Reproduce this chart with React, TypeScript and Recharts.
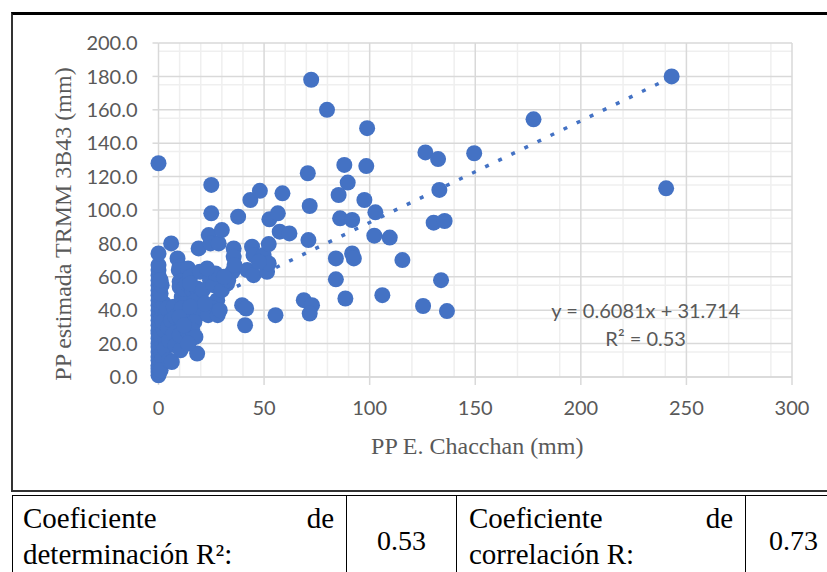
import {
  ScatterChart,
  Scatter,
  XAxis,
  YAxis,
  CartesianGrid,
  ReferenceLine,
  ReferenceDot,
  Label,
} from 'recharts';

// PP E. Chacchan (x) vs PP estimada TRMM 3B43 (y), mm
const puntosEjeCero: [number, number][] = [
  [0, 1], [0, 3], [0, 5], [0, 7], [0, 10], [0, 12], [0, 15], [0, 18], [0, 20],
  [0, 23], [0, 26], [0, 28], [0, 31], [0, 34], [0, 37], [0, 40], [0, 43], [0, 46],
  [0, 49], [0, 52], [0, 55], [0, 58], [0, 61], [0, 64], [0, 67], [0, 74], [0, 128],
  [1, 9], [1.5, 14], [2, 20], [1, 25], [2.5, 30], [1.5, 35], [2, 40], [2.5, 44],
  [1, 50], [1.5, 55], [1, 58], [2, 11], [3, 24], [3, 17], [2.5, 28],
  [3.5, 38], [1, 4], [2, 33], [4, 41],
];

const puntosBajos: [number, number][] = [
  [5, 10], [6.3, 9], [5, 22], [4.5, 30], [6, 34], [7.2, 26], [7.2, 42], [8, 36],
  [8, 19], [6, 80], [9, 71], [10, 66], [9.6, 64], [10, 57], [10, 54], [11, 48],
  [10.4, 16], [10, 25], [11, 34], [12, 38], [13.4, 28], [13, 44], [14, 65], [13, 50],
  [12, 53], [11, 41], [10, 36], [13.4, 56], [15, 22], [15, 60], [16, 52], [17, 38],
  [18.3, 14], [18.3, 37], [18.3, 53], [19, 77], [19.6, 63], [19.6, 47], [17, 45],
  [15, 56], [14, 27], [15, 42], [17, 33], [16, 28], [17.5, 24], [14, 20], [12, 31],
];

const puntosMedios: [number, number][] = [
  [23.8, 85], [24.6, 80], [28.5, 80], [30, 88], [25, 115], [25, 98], [24.4, 58],
  [28, 56], [27.8, 46], [26, 41], [23.5, 37], [28, 37], [21, 52], [26, 55],
  [32.5, 56], [22, 44], [27, 62], [23, 65], [30, 52], [29, 40], [35.6, 77],
  [35.6, 72], [35, 63], [37.7, 96], [39.6, 43], [41.5, 41], [41, 31], [44.3, 78],
  [45, 73], [42, 64], [45, 61], [49.8, 73], [51.4, 63], [52.2, 68], [47.5, 69],
  [52.2, 79.6], [43.5, 106], [48, 111.5], [52.5, 94.4], [56.5, 98], [57.4, 87],
  [62, 86], [58.7, 110], [55.4, 37], [33, 58], [31, 60], [36, 67],
];

const puntosAltos: [number, number][] = [
  [68.8, 46], [72.7, 43], [71.6, 38], [71, 82], [70.7, 122], [71.6, 102.4],
  [72.3, 178], [79.8, 160], [84, 71], [84, 58.5], [85.3, 109], [86, 95], [88, 127],
  [88.5, 47], [89.6, 116.4], [91.7, 94], [91.7, 74], [92.5, 71], [97.5, 106],
  [98.4, 126.3], [98.8, 149], [102.2, 84.6], [102.7, 98.6], [106, 49],
  [109.5, 83.5], [115.5, 70], [125.3, 42.5], [126.4, 134.5], [130.3, 92.4],
  [132.4, 130.5], [133, 112], [133.8, 58], [135.5, 93.4], [136.6, 39.5],
  [149.5, 134], [177.6, 154.3], [240.4, 113], [243, 180],
];

const ticksX = [0, 50, 100, 150, 200, 250, 300];
const ticksY = [0, 20, 40, 60, 80, 100, 120, 140, 160, 180, 200];
const menoresX = [10, 20, 30, 40, 60, 70, 80, 90, 110, 120, 130, 140, 160, 170, 180, 190, 210, 220, 230, 240, 260, 270, 280, 290];
const menoresY = [5, 10, 15, 25, 30, 35, 45, 50, 55, 65, 70, 75, 85, 90, 95, 105, 110, 115, 125, 130, 135, 145, 150, 155, 165, 170, 175, 185, 190, 195];

const pendiente = 0.6081;
const intercepto = 31.714;

const datos = [...puntosEjeCero, ...puntosBajos, ...puntosMedios, ...puntosAltos].map(
  ([x, y]) => ({ x, y })
);
const xMin = Math.min(...datos.map((d) => d.x));
const xMax = Math.max(...datos.map((d) => d.x));

const AZUL = '#4472C4';
const GRIS = '#595959';
const tickStyle = { fill: GRIS, fontSize: 20, fontFamily: 'Lato' };

function Punto(props: any) {
  return <circle cx={props.cx} cy={props.cy} r={8} fill={AZUL} />;
}

function EtiquetaTendencia(props: any) {
  const vb = props.viewBox || {};
  const cx = (vb.x ?? 0) + (vb.width ?? 0) / 2;
  const cy = (vb.y ?? 0) + (vb.height ?? 0) / 2;
  return (
    <text textAnchor="middle" fill={GRIS} fontSize={20} fontFamily="Lato">
      <tspan x={cx} y={cy - 14} dominantBaseline="central">
        y = 0.6081x + 31.714
      </tspan>
      <tspan x={cx} y={cy + 14} dominantBaseline="central">
        R² = 0.53
      </tspan>
    </text>
  );
}

const celda: React.CSSProperties = {
  position: 'absolute',
  top: 0,
  height: 90,
  boxSizing: 'border-box',
  borderRight: '1.5px solid #000',
  fontFamily: '"Liberation Serif", serif',
  fontSize: 29,
  color: '#000',
};

export default function App() {
  return (
    <div style={{ position: 'absolute', left: 0, top: 0, width: 827, height: 572, overflow: 'hidden', background: '#fff' }}>
      <div
        style={{
          position: 'absolute',
          left: 11,
          top: 12,
          width: 840,
          height: 480,
          boxSizing: 'border-box',
          borderTop: '3px solid #000',
          borderLeft: '2px solid #333',
          borderBottom: '2px solid #333',
        }}
      />
      <div style={{ position: 'absolute', left: 0, top: 0 }}>
        <ScatterChart width={827} height={470} margin={{ top: 43, right: 35, bottom: 8, left: 0 }}>
          <CartesianGrid
            stroke="#efefef"
            strokeWidth={1.5}
            horizontalValues={menoresY}
            verticalValues={menoresX}
          />
          <CartesianGrid
            stroke="#d9d9d9"
            strokeWidth={1.5}
            horizontalValues={ticksY}
            verticalValues={ticksX}
          />
          <XAxis
            type="number"
            dataKey="x"
            domain={[0, 300]}
            ticks={ticksX}
            height={85}
            tickSize={8}
            tickMargin={16}
            tick={tickStyle}
            axisLine={{ stroke: '#d9d9d9', strokeWidth: 1.5 }}
            tickLine={{ stroke: '#d9d9d9', strokeWidth: 1.5 }}
          >
            <Label
              value="PP E. Chacchan (mm)"
              position="center"
              dy={26}
              dx={2}
              fill={GRIS}
              fontSize={24}
              fontFamily='"Liberation Serif", serif'
            />
          </XAxis>
          <YAxis
            type="number"
            dataKey="y"
            domain={[0, 200]}
            ticks={ticksY}
            width={158.5}
            tickSize={6}
            tickMargin={15}
            tick={tickStyle}
            tickFormatter={(v: number) => v.toFixed(1)}
            axisLine={false}
            tickLine={{ stroke: '#d9d9d9', strokeWidth: 1.5 }}
          >
            <Label
              value="PP estimada TRMM 3B43 (mm)"
              position="center"
              angle={-90}
              dx={-17}
              dy={14}
              fill={GRIS}
              fontSize={24}
              fontFamily='"Liberation Serif", serif'
            />
          </YAxis>
          <Scatter data={datos} shape={Punto} isAnimationActive={false} />
          <ReferenceLine
            segment={[
              { x: xMin, y: pendiente * xMin + intercepto },
              { x: xMax, y: pendiente * xMax + intercepto },
            ]}
            stroke={AZUL}
            strokeWidth={3.5}
            strokeDasharray="4 10.5"
          />
          <ReferenceDot x={230.7} y={31.7} r={0} stroke="none" fill="none" label={<EtiquetaTendencia />} />
        </ScatterChart>
      </div>
      <div
        style={{
          position: 'absolute',
          left: 12,
          top: 495,
          width: 840,
          height: 90,
          borderTop: '1.5px solid #000',
          borderLeft: '1.5px solid #000',
        }}
      >
        <div style={{ ...celda, left: 0, width: 334, padding: '4px 12px 0 10px', lineHeight: '36px' }}>
          <div style={{ display: 'flex', justifyContent: 'space-between' }}>
            <span>Coeficiente</span>
            <span>de</span>
          </div>
          <div>determinación R²:</div>
        </div>
        <div style={{ ...celda, left: 334, width: 110, textAlign: 'center', lineHeight: '90px', fontSize: 28 }}>0.53</div>
        <div style={{ ...celda, left: 444, width: 289, padding: '4px 12px 0 12px', lineHeight: '36px' }}>
          <div style={{ display: 'flex', justifyContent: 'space-between' }}>
            <span>Coeficiente</span>
            <span>de</span>
          </div>
          <div>correlación R:</div>
        </div>
        <div style={{ ...celda, left: 733, width: 95, textAlign: 'center', lineHeight: '90px', fontSize: 28, borderRight: 'none' }}>0.73</div>
      </div>
    </div>
  );
}
